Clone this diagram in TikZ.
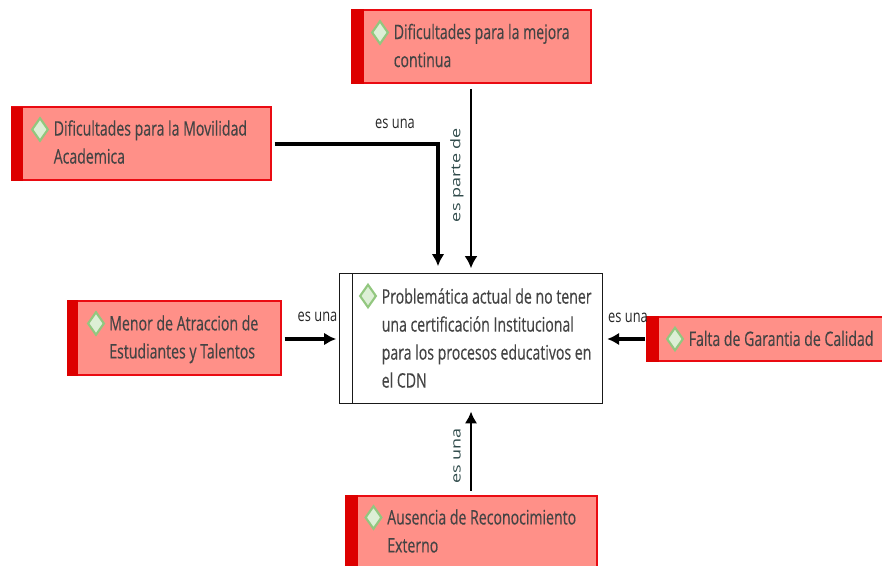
\documentclass[tikz,border=0pt]{standalone}
\usepackage{fontspec}
\setmainfont{Open Sans}
\newfontfamily\boxfont[FakeStretch=0.705,FakeBold=0.3]{Open Sans}
\newfontfamily\edgefont[FakeStretch=0.74]{Open Sans}
\newfontfamily\rotfont[FakeStretch=1.35]{Open Sans}
\usetikzlibrary{arrows.meta,shapes.geometric}
\definecolor{boxred}{HTML}{FF9088}
\definecolor{edgered}{HTML}{EA0B12}
\definecolor{bandred}{HTML}{DD0000}
\definecolor{txtgray}{HTML}{444444}
\definecolor{diafill}{HTML}{DDEFD6}
\definecolor{diadraw}{HTML}{92C77F}
\definecolor{rotcol}{HTML}{2F4A4A}
\tikzset{
  redbox/.style={draw=edgered,line width=1.5pt,fill=boxred,rectangle,inner sep=0pt,outer sep=0pt},
  band/.style={fill=bandred,draw=none,rectangle,inner sep=0pt,outer sep=0pt},
  mainbox/.style={draw=black!90,line width=1.4pt,fill=white,rectangle,inner sep=0pt,outer sep=0pt},
  dia/.style={diamond,aspect=1,draw=diadraw,line width=1.6pt,fill=diafill,minimum width=12.5pt,minimum height=17.5pt,inner sep=0pt},
  boxtext/.style={anchor=north west,align=left,inner sep=0pt,text=txtgray,font=\fontsize{15}{21}\selectfont\boxfont},
  edgetext/.style={inner sep=0pt,text=black!85,font=\fontsize{13}{14}\selectfont\edgefont},
  rottext/.style={inner sep=0pt,rotate=90,text=rotcol,font=\fontsize{10}{12}\selectfont\rotfont},
  thickline/.style={draw=black,line width=2.4pt,-{Latex[length=9pt,width=9.5pt]}},
  thinline/.style={draw=black,line width=1.1pt,-{Latex[length=9pt,width=9.5pt]}},
}
\newcommand{\rbox}[6]{% name, x1, y1, x2, y2, band width
  \node[redbox,minimum width=#4pt*0.75-#2pt*0.75,minimum height=#5pt*0.75-#3pt*0.75,anchor=north west] (#1) at (#2,#3) {};
  \node[band,minimum width=#6pt*0.75,minimum height=#5pt*0.75-#3pt*0.75+0.75pt,anchor=north west] (#1band) at (#2-0.5,#3-0.5) {};
}
\begin{document}
\begin{tikzpicture}[x=0.75pt,y=-0.75pt]
\useasboundingbox (0,0) rectangle (882,566);
\clip (0,0) rectangle (882,566);

\rbox{top}{351.5}{10}{590.5}{83.5}{13}
\node[dia] (topd) at (380,32.5) {};
\node[boxtext] (topt) at (393.5,23.5) {Dificultades para la mejora\\continua};

\rbox{lft}{11.5}{107.5}{270.5}{180.5}{12}
\node[dia] (lftd) at (40,129.5) {};
\node[boxtext] (lftt) at (53.5,120) {Dificultades para la Movilidad\\Academica};

\rbox{men}{67.5}{301}{280.5}{375.5}{11}
\node[dia] (mend) at (96,323.5) {};
\node[boxtext] (ment) at (109,315) {Menor de Atraccion de\\Estudiantes y Talentos};

\rbox{fal}{646.5}{317}{884}{361.5}{13}
\node[dia] (fald) at (675,339) {};
\node[boxtext] (falt) at (688.5,330.5) {Falta de Garantia de Calidad};

\rbox{aus}{345.5}{496}{596.5}{590}{13}
\node[dia] (ausd) at (373.5,517.5) {};
\node[boxtext] (aust) at (387,509) {Ausencia de Reconocimiento\\Externo};

\node[mainbox,minimum width=197.25pt,minimum height=97.5pt,anchor=north west] (ctr) at (339.5,273.5) {};
\node[mainbox,minimum width=9.75pt,minimum height=97.5pt,anchor=north west] (ctrb) at (339.5,273.5) {};
\node[dia] (ctrd) at (368,296) {};
\node[boxtext] (ctrt) at (381.5,288) {Problemática actual de no tener\\una certificación Institucional\\para los procesos educativos en\\el CDN};

\coordinate (ctop) at (438,273.5);
\draw[thickline,shorten >=5.5pt,shorten <=3pt] (lft.east |- 0,144) -| (ctop);
\draw[thinline,shorten >=4pt,shorten <=4pt] (top.south) -- (ctr.north);
\draw[thickline,shorten >=2.5pt,shorten <=3pt] (men.east |- 0,339) -- (ctr.west |- 0,339);
\draw[thickline,shorten >=3.5pt,shorten <=1.5pt] (fal.west |- 0,339) -- (ctr.east |- 0,339);
\draw[thickline,line width=1.8pt,shorten >=6pt,shorten <=4pt] (aus.north) -- (ctr.south);

\node[edgetext] (l1) at (395,124) {es una};
\node[edgetext] (l2) at (317.5,317) {es una};
\node[edgetext] (l3) at (628,318) {es una};
\node[rottext] (l4) at (457,175) {es parte de};
\node[rottext] (l5) at (457,456) {es una};
\end{tikzpicture}
\end{document}
